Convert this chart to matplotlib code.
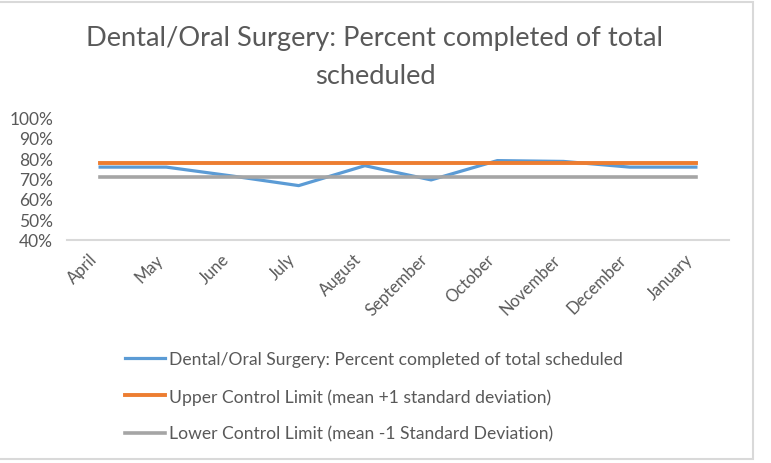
import matplotlib
matplotlib.use("Agg")
import matplotlib.pyplot as plt
import matplotlib.transforms as mtransforms
from matplotlib.patches import Rectangle
from matplotlib.ticker import PercentFormatter

plt.rcParams['font.family'] = ['Lato', 'DejaVu Sans']

months = ["April", "May", "June", "July", "August", "September",
          "October", "November", "December", "January"]
pct_completed = [75.6, 75.6, 71.2, 66.5, 76.3, 69.3, 78.8, 78.4, 75.6, 75.6]
upper_limit = [77.5] * len(months)
lower_limit = [70.6] * len(months)
y_ticks = [40, 50, 60, 70, 80, 90, 100]

label_main = "Dental/Oral Surgery: Percent completed of total scheduled"
label_ucl = "Upper Control Limit (mean +1 standard deviation)"
label_lcl = "Lower Control Limit (mean -1 Standard Deviation)"
title = "Dental/Oral Surgery: Percent completed of total\nscheduled"

text_color = "#595959"
W, H = 771, 464
fig = plt.figure(figsize=(W / 100, H / 100), dpi=100)

# chart area border
fig.patches.append(Rectangle((-5 / W, 1 - 460 / H), 758 / W, 457 / H,
                             transform=fig.transFigure, fill=False,
                             edgecolor="#d9d9d9", linewidth=1.5))

ax = fig.add_axes([67 / W, 1 - 240.5 / H, 662 / W, 122 / H])
x = list(range(len(months)))
ax.plot(x, pct_completed, color="#5B9BD5", lw=2.3, label=label_main, zorder=3,
        solid_joinstyle="round")
ax.plot(x, upper_limit, color="#ED7D31", lw=2.8, label=label_ucl, zorder=4)
ax.plot(x, lower_limit, color="#A5A5A5", lw=2.6, label=label_lcl, zorder=5)

ax.set_xlim(-0.5, len(months) - 0.5)
ax.set_ylim(40, 100)
ax.set_yticks(y_ticks)
ax.yaxis.set_major_formatter(PercentFormatter(decimals=0))
ax.set_xticks(x)
ax.set_xticklabels(months, rotation=45, ha="right", va="top", fontsize=12)
offset = mtransforms.ScaledTranslation(7 / 100, 0, fig.dpi_scale_trans)
for lbl in ax.get_xticklabels():
    lbl.set_transform(lbl.get_transform() + offset)

for s in ["top", "right", "left"]:
    ax.spines[s].set_visible(False)
ax.spines["bottom"].set_color("#d9d9d9")
ax.spines["bottom"].set_linewidth(1.5)
ax.tick_params(axis="both", length=0, labelcolor=text_color)
ax.tick_params(axis="y", pad=10, labelsize=12.5)
ax.tick_params(axis="x", pad=8)

fig.text(375 / W, 1 - 57.5 / H, title, ha="center", va="center",
         fontsize=19.6, color=text_color, linespacing=1.68)

leg = fig.legend(loc="upper left", bbox_to_anchor=(125 / W, 1 - 352 / H),
                 frameon=False, fontsize=12.6, handlelength=2.3,
                 handletextpad=0.2, labelspacing=1.2, borderpad=0,
                 borderaxespad=0)
for t in leg.get_texts():
    t.set_color(text_color)

fig.savefig("out.png", dpi=100, facecolor="white")
